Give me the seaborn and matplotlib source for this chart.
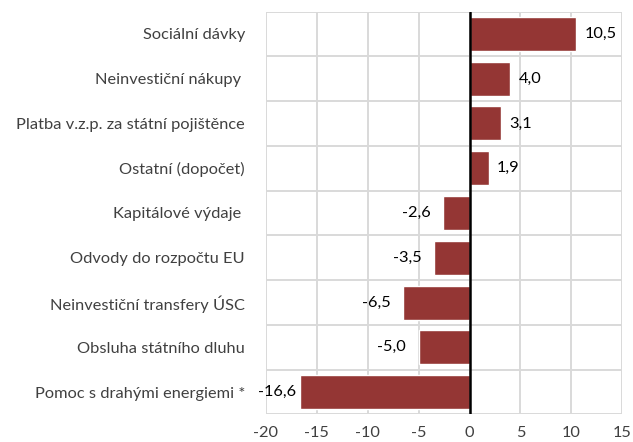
import matplotlib
matplotlib.use("Agg")
import matplotlib.pyplot as plt
import seaborn as sns
import pandas as pd
import numpy as np

categories = [
    "Sociální dávky",
    "Neinvestiční nákupy ",
    "Platba v.z.p. za státní pojištěnce",
    "Ostatní (dopočet)",
    "Kapitálové výdaje ",
    "Odvody do rozpočtu EU",
    "Neinvestiční transfery ÚSC",
    "Obsluha státního dluhu",
    "Pomoc s drahými energiemi *",
]
values = [10.5, 4.0, 3.1, 1.9, -2.6, -3.5, -6.5, -5.0, -16.6]
x_ticks = [-20, -15, -10, -5, 0, 5, 10, 15]

sns.set_theme(style="white")
plt.rcParams["font.family"] = ["Lato", "DejaVu Sans"]

df = pd.DataFrame({"cat": categories, "val": values})

fig = plt.figure(figsize=(6.33, 4.42), dpi=100)
ax = fig.add_axes([0.420, 0.0624, 0.563, 0.9114])

sns.barplot(data=df, x="val", y="cat", order=categories, color="#943634",
            saturation=1, width=0.76, ax=ax, orient="h")

ax.set_xlim(-20, 15)
ax.set_ylim(len(categories) - 0.5, -0.5)
ax.set_xticks(x_ticks)
ax.set_xticklabels([str(t) for t in x_ticks])
ax.set_xlabel("")
ax.set_ylabel("")

ax.set_yticks(np.arange(-0.5, len(categories), 1.0), minor=True)
ax.grid(True, axis="x", which="major", color="#d9d9d9", linewidth=1.4)
ax.grid(True, axis="y", which="minor", color="#d9d9d9", linewidth=1.4)
ax.set_axisbelow(True)
for s in ax.spines.values():
    s.set_visible(False)
ax.axvline(0, color="black", linewidth=1.8, zorder=5)

fs = 11.8
ax.tick_params(axis="x", which="both", length=0, labelsize=fs, colors="#404040", pad=8)
ax.tick_params(axis="y", which="both", length=0, labelsize=fs, colors="#404040", pad=15)

for i, v in enumerate(values):
    lab = f"{v:.1f}".replace(".", ",")
    if v >= 0:
        ax.annotate(lab, (v, i), xytext=(6, 0), textcoords="offset points",
                    ha="left", va="center", fontsize=fs, color="black")
    else:
        off = -3 if v < -15 else -9
        ax.annotate(lab, (v, i), xytext=(off, 0), textcoords="offset points",
                    ha="right", va="center", fontsize=fs, color="black")

fig.savefig("out.png", dpi=100)
